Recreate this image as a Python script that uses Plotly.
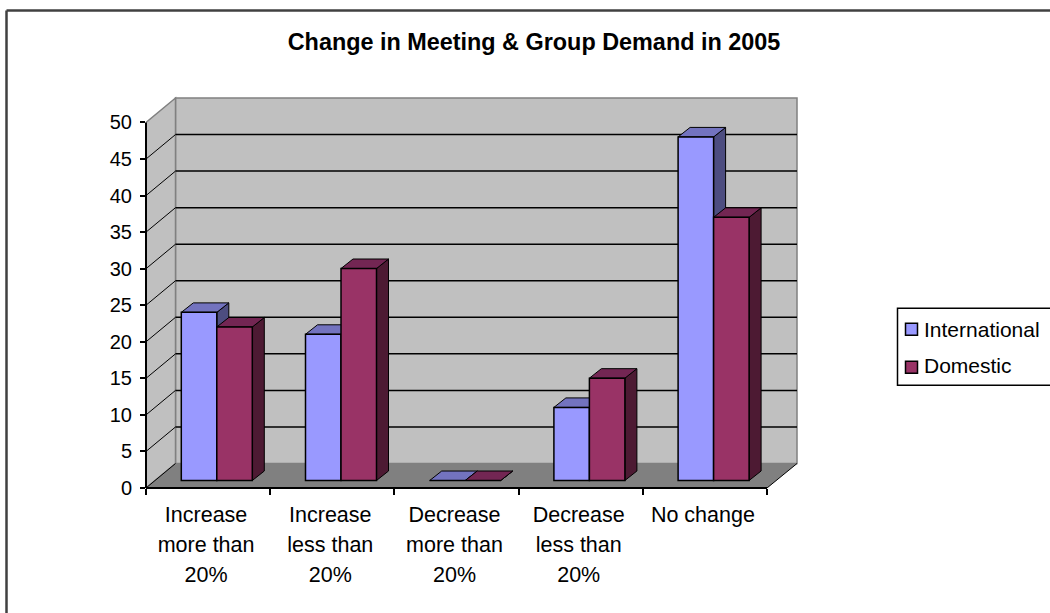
import plotly.graph_objects as go

TITLE = "Change in Meeting & Group Demand in 2005"
CATEGORIES = [
    ["Increase", "more than", "20%"],
    ["Increase", "less than", "20%"],
    ["Decrease", "more than", "20%"],
    ["Decrease", "less than", "20%"],
    ["No change"],
]
INTERNATIONAL = [23, 20, 0, 10, 47]
DOMESTIC = [21, 29, 0, 14, 36]
Y_TICKS = [0, 5, 10, 15, 20, 25, 30, 35, 40, 45, 50]

FONT = "Liberation Sans, Arial, sans-serif"
WIDTH, HEIGHT = 1050, 613
PX_X = 124.2  # pixels per category
PX_Y = 7.32  # pixels per value unit
X0, Y0 = 146, 488.5  # pixel position of the front axis origin
X1, Y1 = 800, 95  # far corner of the plot area


def dx(px):
    return px / PX_X


def dy(px):
    return px / PX_Y


# "paper" in plotly means the plot area, not the page
def px_x(px):
    return (px - X0) / (X1 - X0)


def px_y(px):
    return (Y0 - px) / (Y0 - Y1)


WALL_DX, WALL_DY = dx(29.5), dy(24.5)
BAR_W = dx(35.5)
BAR_DX, BAR_DY = dx(12), dy(9.5)
BAR_SHIFT, BAR_BASE = dx(8.7), dy(7.5)

SERIES = [
    ("International", INTERNATIONAL, "#9999FF", "#7373BF", "#4D4D80", -1),
    ("Domestic", DOMESTIC, "#993366", "#732653", "#4D1A33", 1),
]

fig = go.Figure()
z = 1
for name, values, front, top, side, sign in SERIES:
    side_x, side_y, top_x, top_y, centers = [], [], [], [], []
    for i, v in enumerate(values):
        c = i + 0.5 + BAR_SHIFT + sign * BAR_W / 2
        l, r = c - BAR_W / 2, c + BAR_W / 2
        t = BAR_BASE + v
        centers.append(c)
        side_x += [r, r, r + BAR_DX, r + BAR_DX, r, None]
        side_y += [BAR_BASE, t, t + BAR_DY, BAR_BASE + BAR_DY, BAR_BASE, None]
        top_x += [l, r, r + BAR_DX, l + BAR_DX, l, None]
        top_y += [t, t, t + BAR_DY, t + BAR_DY, t, None]
    for xs, ys, color in [(side_x, side_y, side), (top_x, top_y, top)]:
        fig.add_trace(go.Scatter(
            x=xs, y=ys, mode="lines", fill="toself", fillcolor=color,
            line=dict(color="#000000", width=1), hoverinfo="skip",
            showlegend=False, zorder=z,
        ))
    z += 1
    fig.add_trace(go.Bar(
        x=centers, y=values, base=BAR_BASE, width=BAR_W, name=name,
        marker=dict(color=front, line=dict(color="#000000", width=1.5)),
        showlegend=False, zorder=z,
    ))
    z += 1

n = len(CATEGORIES)
back_r = dx(797 - X0)
shapes = [
    # outer chart border
    dict(type="line", xref="paper", yref="paper", x0=px_x(6.5), x1=px_x(6.5), y0=px_y(10.5), y1=px_y(620),
         line=dict(color="#404040", width=2.5)),
    dict(type="line", xref="paper", yref="paper", x0=px_x(6.5), x1=px_x(1060), y0=px_y(10.5), y1=px_y(10.5),
         line=dict(color="#404040", width=2.5)),
    # walls and floor
    dict(type="path", layer="below", xref="x", yref="y", fillcolor="#C0C0C0", line=dict(color="#808080", width=1.5),
         path=f"M {WALL_DX} {WALL_DY} L {back_r} {WALL_DY} L {back_r} {WALL_DY + 50} L {WALL_DX} {WALL_DY + 50} Z"),
    dict(type="path", layer="below", xref="x", yref="y", fillcolor="#C0C0C0", line=dict(color="#808080", width=1.5),
         path=f"M 0 0 L {WALL_DX} {WALL_DY} L {WALL_DX} {WALL_DY + 50} L 0 50 Z"),
    dict(type="path", layer="below", xref="x", yref="y", fillcolor="#808080", line=dict(width=0),
         path=f"M 0 0 L {n} 0 L {back_r} {WALL_DY} L {WALL_DX} {WALL_DY} Z"),
    dict(type="line", layer="below", xref="x", yref="y", x0=n, x1=back_r, y0=0, y1=WALL_DY,
         line=dict(color="#000000", width=1)),
    dict(type="line", layer="below", xref="x", yref="y", x0=0, x1=WALL_DX, y0=0, y1=WALL_DY,
         line=dict(color="#000000", width=1)),
    # front axis lines, paper on one side so they are not clipped to half width
    dict(type="line", xref="paper", yref="paper", x0=0, x1=0, y0=0, y1=px_y(Y0 - 50 * PX_Y),
         line=dict(color="#000000", width=2)),
    dict(type="line", xref="paper", yref="paper", x0=0, x1=px_x(X0 + n * PX_X), y0=0, y1=0,
         line=dict(color="#000000", width=2)),
    # legend box and swatches
    dict(type="rect", xref="paper", yref="paper", x0=px_x(897.5), x1=px_x(1070), y0=px_y(308.5), y1=px_y(385.5),
         fillcolor="#FFFFFF", line=dict(color="#000000", width=1.5)),
    dict(type="rect", xref="paper", yref="paper", x0=px_x(905.5), x1=px_x(917.5), y0=px_y(323.5), y1=px_y(335.5),
         fillcolor=SERIES[0][2], line=dict(color="#000000", width=1.5)),
    dict(type="rect", xref="paper", yref="paper", x0=px_x(905.5), x1=px_x(917.5), y0=px_y(361.5), y1=px_y(373.5),
         fillcolor=SERIES[1][2], line=dict(color="#000000", width=1.5)),
]
for v in Y_TICKS[1:-1]:
    shapes.append(dict(type="line", layer="below", xref="x", yref="y", x0=WALL_DX, x1=back_r,
                       y0=v + WALL_DY, y1=v + WALL_DY, line=dict(color="#000000", width=1.5)))
    shapes.append(dict(type="line", layer="below", xref="x", yref="y", x0=0, x1=WALL_DX,
                       y0=v, y1=v + WALL_DY, line=dict(color="#000000", width=1)))
fig.update_layout(shapes=shapes)

annotations = [
    dict(text=SERIES[0][0], xref="paper", yref="paper", x=px_x(922), y=px_y(330), xanchor="left", yanchor="middle",
         showarrow=False, font=dict(size=21, color="#000000")),
    dict(text=SERIES[1][0], xref="paper", yref="paper", x=px_x(922), y=px_y(366), xanchor="left", yanchor="middle",
         showarrow=False, font=dict(size=21, color="#000000")),
]

# larger tick font only sets the line pitch, the visible text is sized in the span
tick_text = ["<br>".join(f"<span style='font-size:21.5px'>{w}</span>" for w in lines) for lines in CATEGORIES]

fig.update_layout(
    width=WIDTH,
    height=HEIGHT,
    autosize=False,
    barmode="overlay",
    showlegend=False,
    paper_bgcolor="#FFFFFF",
    plot_bgcolor="rgba(0,0,0,0)",
    font=dict(family=FONT, color="#000000", size=20),
    margin=dict(l=X0, r=WIDTH - X1, t=Y1, b=HEIGHT - Y0, pad=0, autoexpand=False),
    title=dict(text=f"<b>{TITLE}</b>", x=534 / WIDTH, xanchor="center", xref="container",
               y=1 - 42 / HEIGHT, yanchor="middle", yref="container", font=dict(size=23.4, color="#000000")),
    annotations=annotations,
    xaxis=dict(
        range=[0, dx(X1 - X0)], tickmode="array", tickvals=[i + 0.5 - dx(2) for i in range(n)], ticktext=tick_text,
        ticks="", showgrid=False, zeroline=False, showline=False, tickangle=0,
        tickfont=dict(size=23), ticklabelstandoff=10,
        minor=dict(ticks="outside", tick0=0, dtick=1, ticklen=6, tickwidth=2, tickcolor="#000000", showgrid=False),
    ),
    yaxis=dict(
        range=[0, dy(Y0 - Y1)], tickmode="array", tickvals=Y_TICKS, ticks="outside", ticklen=5, tickwidth=2,
        tickcolor="#000000", showgrid=False, zeroline=False, showline=False, tickfont=dict(size=20),
        ticklabelstandoff=4,
    ),
)

fig.write_html("out.html", config=dict(displayModeBar=False), post_script="document.body.style.margin='0';")
